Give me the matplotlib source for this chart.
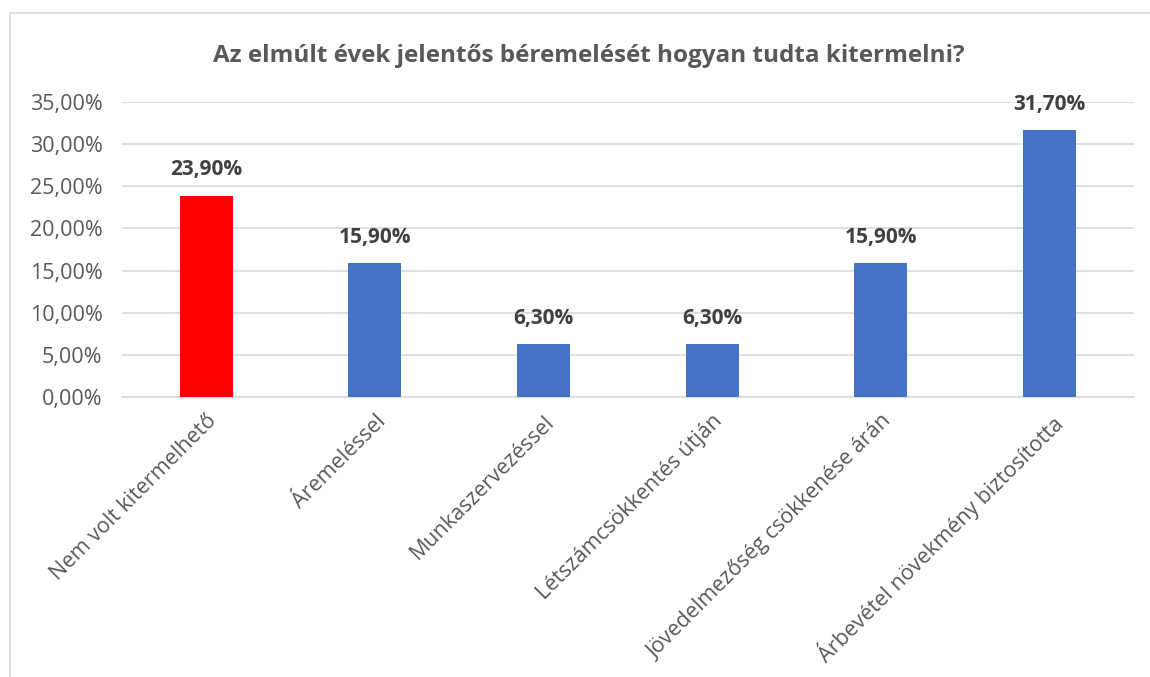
import matplotlib.pyplot as plt
from matplotlib.patches import Rectangle
from matplotlib.ticker import FuncFormatter

plt.rcParams["font.family"] = ["Open Sans", "DejaVu Sans"]

categories = [
    "Nem volt kitermelhető",
    "Áremeléssel",
    "Munkaszervezéssel",
    "Létszámcsökkentés útján",
    "Jövedelmezőség csökkenése árán",
    "Árbevétel növekmény biztosította",
]
values = [23.9, 15.9, 6.3, 6.3, 15.9, 31.7]
colors = ["#ff0000", "#4472c4", "#4472c4", "#4472c4", "#4472c4", "#4472c4"]
title = "Az elmúlt évek jelentős béremelését hogyan tudta kitermelni?"

fig = plt.figure(figsize=(11.5, 6.77), dpi=100)
ax = fig.add_axes([0.106, 0.4136, 0.88, 0.4357])

x = range(len(categories))
ax.bar(x, values, width=0.315, color=colors, zorder=3)
for xi, v in zip(x, values):
    ax.annotate(f"{v:.2f}%".replace(".", ","), (xi, v), xytext=(0, 11),
                textcoords="offset points", ha="center", va="bottom",
                fontsize=15, fontweight="bold", color="#404040")

ax.set_xlim(-0.5, len(categories) - 0.5)
ax.set_ylim(0, 35)
ax.set_yticks(range(0, 36, 5))
ax.yaxis.set_major_formatter(FuncFormatter(lambda v, p: f"{v:.2f}%".replace(".", ",")))
ax.grid(axis="y", color="#d9d9d9", linewidth=1.2, zorder=0)
for s in ["top", "right", "left"]:
    ax.spines[s].set_visible(False)
ax.spines["bottom"].set_color("#d9d9d9")
ax.spines["bottom"].set_linewidth(1.2)
ax.tick_params(axis="both", length=0, labelsize=15.5, labelcolor="#595959")
ax.tick_params(axis="y", pad=14)
ax.set_xticks(list(x))
ax.set_xticklabels(categories, rotation=45, ha="right", rotation_mode="anchor")
ax.tick_params(axis="x", pad=10)

fig.text(0.512, 0.917, title, ha="center", va="center", fontsize=17.5,
         fontweight="bold", color="#595959")

fig.patches.append(Rectangle((0.009, -0.01), 1.0, 0.991, transform=fig.transFigure,
                             fill=False, edgecolor="#d9d9d9", linewidth=1.2))

fig.savefig("out.png", dpi=100)
